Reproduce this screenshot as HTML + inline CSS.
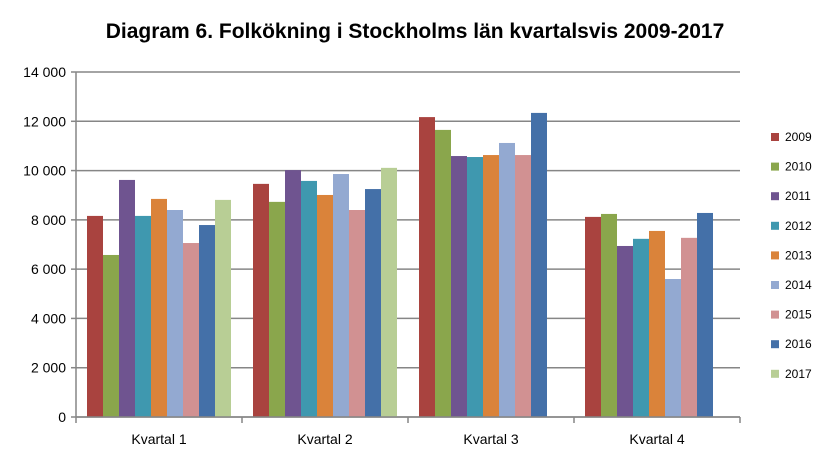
<!DOCTYPE html>
<html><head><meta charset="utf-8"><style>
body{margin:0;background:#fff;font-family:"Liberation Sans",sans-serif;}
svg text{font-family:"Liberation Sans",sans-serif;}
</style></head><body>
<svg width="833" height="462">
<text x="415" y="38" text-anchor="middle" font-size="21" font-weight="bold" fill="#000">Diagram 6. Folkökning  i Stockholms län kvartalsvis 2009-2017</text>
<g id="grid"></g><g id="bars"></g><g id="axes"></g><g id="legend"></g>
</svg>
<script>
const categories=["Kvartal 1","Kvartal 2","Kvartal 3","Kvartal 4"];
const years=["2009","2010","2011","2012","2013","2014","2015","2016","2017"];
const colors=["#A9433F","#8AA64C","#6F5490","#3F98AF","#DA833A","#93A9D1","#D19192","#4470A8","#B8CE95"];
const v2009=[8160,9460,12170,8120];
const v2010=[6575,8730,11650,8240];
const v2011=[9620,10020,10590,6940];
const v2012=[8160,9580,10550,7230];
const v2013=[8850,9010,10630,7550];
const v2014=[8400,9860,11120,5600];
const v2015=[7060,8400,10630,7270];
const v2016=[7790,9250,12340,8280];
const v2017=[8810,10110,null,null];
const series=[v2009,v2010,v2011,v2012,v2013,v2014,v2015,v2016,v2017];
const yTicks=[0,2000,4000,6000,8000,10000,12000,14000];
const yTickLabels=["0","2 000","4 000","6 000","8 000","10 000","12 000","14 000"];
const NS="http://www.w3.org/2000/svg";
const X0=76,X1=740,Y0=417,Y1=72,YMAX=14000;
const y=v=>Y0-(v/YMAX)*(Y0-Y1);
const catW=(X1-X0)/categories.length;
function mk(t,a,p){const e=document.createElementNS(NS,t);for(const k in a)e.setAttribute(k,a[k]);p.appendChild(e);return e;}
const grid=document.getElementById('grid'),bars=document.getElementById('bars'),axes=document.getElementById('axes'),leg=document.getElementById('legend');
yTicks.forEach((t,i)=>{
 const l=mk('line',{x1:X0,x2:X1,y1:y(t),y2:y(t),stroke:'#868686','stroke-width':1.5},grid);
 
 
 const tk=mk('line',{x1:X0-5,x2:X0,y1:y(t),y2:y(t),stroke:'#868686','stroke-width':1.5},axes);
 const tx=mk('text',{x:X0-10,y:y(t)+5,'text-anchor':'end','font-size':14,fill:'#000'},axes);
 tx.textContent=yTickLabels[i];
 
 
});
const bw=16,off=(catW-bw*9)/2;
categories.forEach((c,ci)=>{
 series.forEach((s,si)=>{
  const v=s[ci]; if(v==null) return;
  const r=mk('rect',{x:X0+ci*catW+off+si*bw,y:y(v),width:bw,height:Y0-y(v),fill:colors[si]},bars);
  
  
 });
 const tx=mk('text',{x:X0+ci*catW+catW/2,y:444,'text-anchor':'middle','font-size':14,fill:'#000'},axes);
 tx.textContent=c;
 
 
});
for(let i=0;i<=categories.length;i++){mk('line',{x1:X0+i*catW,x2:X0+i*catW,y1:Y0,y2:Y0+6,stroke:'#868686','stroke-width':1.5},axes);}
mk('line',{x1:X0,x2:X0,y1:Y1,y2:Y0,stroke:'#868686','stroke-width':1.5},axes);
mk('line',{x1:X0,x2:X1,y1:Y0,y2:Y0,stroke:'#868686','stroke-width':1.5},axes);
years.forEach((yr,i)=>{
 const g=mk('g',{},leg);
 
 
 const cy=137+i*29.6;
 mk('rect',{x:771,y:cy-4,width:8,height:8,fill:colors[i]},g);
 const t=mk('text',{x:785,y:cy+4,'font-size':12,fill:'#000'},g);
 t.textContent=yr;
});
</script>
</body></html>
